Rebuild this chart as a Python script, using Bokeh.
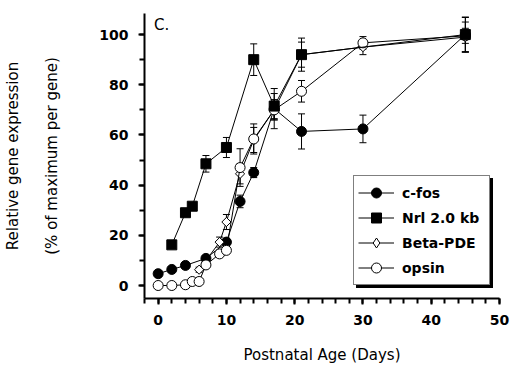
import numpy as np
from bokeh.plotting import figure
from bokeh.models import (ColumnDataSource, Whisker, TeeHead, Label, LinearAxis,
                          FixedTicker, SingleIntervalTicker, Legend, LegendItem)
from bokeh.embed import file_html
from bokeh.resources import INLINE

# ---- data ----
cfos_x = [0, 2, 4, 7, 10, 12, 14, 17, 21, 30, 45]
cfos_y = [4.7, 6.4, 8.0, 10.8, 17.3, 33.5, 45.0, 70.5, 61.4, 62.4, 100.0]
cfos_err = [0, 0, 0, 1.0, 1.5, 2.5, 2.0, 8.0, 7.0, 5.5, 7.0]

nrl_x = [2, 4, 5, 7, 10, 14, 17, 21, 45]
nrl_y = [16.2, 29.0, 31.6, 48.5, 55.0, 90.0, 71.5, 92.0, 100.0]
nrl_err = [0, 0, 0, 3.3, 4.0, 6.3, 5.0, 6.6, 6.8]

pde_x = [6, 9, 10, 12, 14, 17, 21, 30, 45]
pde_y = [6.3, 17.3, 25.3, 44.5, 58.0, 70.0, 92.0, 95.0, 99.0]
pde_err = [1.0, 2.0, 3.0, 4.0, 5.0, 4.0, 5.0, 3.0, 6.0]

opsin_x = [0, 2, 4, 5, 6, 7, 9, 10, 12, 14, 17, 21, 30, 45]
opsin_y = [0.0, 0.0, 0.3, 1.6, 1.6, 8.2, 12.6, 14.0, 47.0, 58.4, 70.0, 77.4, 96.7, 99.5]
opsin_err = [0, 0, 0, 0, 0, 1.0, 1.0, 1.0, 7.5, 6.0, 4.0, 4.3, 2.5, 3.0]

series_names = ["c-fos", "Nrl 2.0 kb", "Beta-PDE", "opsin"]

FONT = "DejaVu Sans"

p = figure(width=520, height=368, x_range=(-2, 50), y_range=(-5.18, 108.4),
           output_backend="svg", toolbar_location=None,
           min_border_left=143, min_border_right=21, min_border_top=13, min_border_bottom=70)
p.grid.visible = False
p.outline_line_color = None
p.background_fill_color = "white"
p.border_fill_color = "white"

# axes
p.xaxis.ticker = SingleIntervalTicker(interval=10, num_minor_ticks=5)
p.yaxis.ticker = SingleIntervalTicker(interval=20, num_minor_ticks=2)
for ax in (p.xaxis[0], p.yaxis[0]):
    ax.axis_line_width = 2
    ax.axis_line_color = "black"
    ax.major_tick_in = 0
    ax.minor_tick_in = 0
    ax.major_tick_out = 6
    ax.minor_tick_out = 5
    ax.major_tick_line_width = 2
    ax.minor_tick_line_width = 2
    ax.major_label_text_font = FONT
    ax.major_label_text_font_style = "bold"
    ax.major_label_text_font_size = "14px"
    ax.major_label_text_color = "black"
    ax.axis_label_text_font = FONT
    ax.axis_label_text_font_style = "normal"
    ax.axis_label_text_font_size = "15px"
    ax.axis_label_text_color = "black"

p.xaxis.axis_label = "Postnatal Age (Days)"
p.xaxis.major_label_standoff = 10
p.xaxis.axis_label_standoff = 18

p.yaxis.axis_label = "(% of maximum per gene)"
p.yaxis.major_label_standoff = 10
p.yaxis.axis_label_standoff = 35

outer = LinearAxis(ticker=FixedTicker(ticks=[]), axis_line_color=None,
                   major_tick_line_color=None, minor_tick_line_color=None,
                   axis_label="Relative gene expression",
                   axis_label_text_font=FONT, axis_label_text_font_style="normal",
                   axis_label_text_font_size="15px", axis_label_text_color="black",
                   axis_label_standoff=19, major_label_text_font_size="0px")
p.add_layout(outer, "left")

# error bars
for xs, ys, es in [(cfos_x, cfos_y, cfos_err), (nrl_x, nrl_y, nrl_err),
                   (pde_x, pde_y, pde_err), (opsin_x, opsin_y, opsin_err)]:
    bx = [x for x, e in zip(xs, es) if e > 0]
    up = [y + e for y, e in zip(ys, es) if e > 0]
    lo = [y - e for y, e in zip(ys, es) if e > 0]
    src = ColumnDataSource(dict(base=bx, upper=up, lower=lo))
    p.add_layout(Whisker(base="base", upper="upper", lower="lower", source=src,
                         line_color="black", line_width=1,
                         upper_head=TeeHead(size=7, line_width=1, line_color="black"),
                         lower_head=TeeHead(size=7, line_width=1, line_color="black")))

def add_series(xs, ys, **mk):
    src = ColumnDataSource(dict(x=xs, y=ys))
    l = p.line("x", "y", source=src, line_color="black", line_width=1)
    s = p.scatter("x", "y", source=src, line_color="black", line_width=1, **mk)
    return l, s

# drawing order: c-fos, Beta-PDE, opsin, Nrl (Nrl squares on top)
l_cfos, s_cfos = add_series(cfos_x, cfos_y, marker="circle", size=10, fill_color="black")

# Beta-PDE: small diamond (hidden under the rotated squares) provides the legend swatch
pde_src = ColumnDataSource(dict(x=pde_x, y=pde_y))
l_pde = p.line("x", "y", source=pde_src, line_color="black", line_width=1)
s_pde = p.scatter("x", "y", source=pde_src, marker="diamond", size=8, line_color="black",
                  line_width=1, fill_color="white")
p.scatter("x", "y", source=pde_src, marker="square", size=6.5, angle=np.pi / 4,
          line_color="black", line_width=1, fill_color="white")

l_ops, s_ops = add_series(opsin_x, opsin_y, marker="circle", size=10, fill_color="white")
l_nrl, s_nrl = add_series(nrl_x, nrl_y, marker="square", size=10, fill_color="black")

rends = [[l_cfos, s_cfos], [l_nrl, s_nrl], [l_pde, s_pde], [l_ops, s_ops]]
items = [LegendItem(label=n, renderers=r) for n, r in zip(series_names, rends)]
shadow_items = [LegendItem(label="", renderers=r) for r in rends]

def make_legend(its, loc, shadow=False):
    return Legend(items=its, location=loc, orientation="vertical",
                  border_line_color="black", border_line_width=1,
                  background_fill_color="black" if shadow else "white",
                  background_fill_alpha=1.0,
                  label_text_font=FONT, label_text_font_style="bold",
                  label_text_font_size="14px", label_text_color="black",
                  glyph_width=36, glyph_height=25, label_height=25, label_width=83,
                  spacing=-5, padding=4, margin=0, label_standoff=8)

p.add_layout(make_legend(shadow_items, (212, 10), shadow=True), "center")
p.add_layout(make_legend(items, (209, 13)), "center")

p.add_layout(Label(x=-0.6, y=107.5, text="C.", text_font=FONT, text_font_size="15px",
                   text_baseline="top", text_align="left", text_color="black"))

open("out.html", "w").write(file_html(p, INLINE))
